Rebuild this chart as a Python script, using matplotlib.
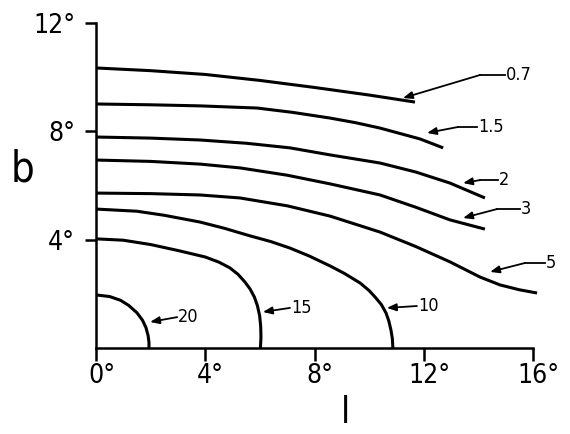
import matplotlib
matplotlib.use("Agg")
import matplotlib.pyplot as plt
from matplotlib.transforms import ScaledTranslation

plt.rcParams["font.family"] = ["DejaVu Sans"]
plt.rcParams["font.stretch"] = "condensed"

# contour levels and their traced curves (l, b in degrees)
levels = ["0.7", "1.5", "2", "3", "5", "10", "15", "20"]

l_07 = [0, 2, 4, 6, 8, 10, 11.68]
b_07 = [10.34, 10.24, 10.10, 9.88, 9.62, 9.34, 9.08]

l_15 = [0, 2, 3.81, 5.9, 7.2, 8.57, 9.5, 10.4, 11.86, 12.71]
b_15 = [9.01, 8.98, 8.94, 8.86, 8.70, 8.49, 8.32, 8.12, 7.72, 7.39]

l_2 = [0, 2, 3.81, 5.5, 7.10, 8.57, 10.4, 11.7, 12.96, 14.24]
b_2 = [7.79, 7.75, 7.68, 7.56, 7.39, 7.13, 6.83, 6.50, 6.09, 5.54]

l_3 = [0, 2, 3.81, 5.27, 7.0, 8.57, 10.4, 11.7, 12.96, 14.24]
b_3 = [6.94, 6.89, 6.79, 6.65, 6.38, 6.06, 5.65, 5.20, 4.73, 4.39]

l_5 = [0, 2, 3.81, 5.27, 7.0, 8.57, 10.4, 11.7, 12.96, 14.06, 14.79, 15.5, 16.15]
b_5 = [5.72, 5.70, 5.65, 5.54, 5.25, 4.87, 4.28, 3.75, 3.18, 2.62, 2.33, 2.15, 2.03]

l_10 = [0, 1.5, 2.5, 3.81, 4.7, 5.64, 6.4, 7.10, 7.8, 8.57, 9.1, 9.67,
        10.0, 10.22, 10.45, 10.62, 10.72, 10.80, 10.85, 10.87]
b_10 = [5.13, 5.05, 4.90, 4.65, 4.42, 4.14, 3.93, 3.69, 3.40, 3.03, 2.75, 2.40,
        2.12, 1.88, 1.60, 1.29, 1.00, 0.66, 0.35, 0]

l_15c = [0, 1, 2, 3, 4.0, 4.5, 4.9, 5.2, 5.45, 5.64, 5.80, 5.91, 5.99, 6.03,
         6.04, 6.02]
b_15c = [4.03, 3.98, 3.82, 3.60, 3.36, 3.17, 2.96, 2.72, 2.44, 2.18, 1.88, 1.56,
         1.20, 0.80, 0.40, 0]

l_20 = [0, 0.5, 0.9, 1.2, 1.5, 1.7, 1.83, 1.91, 1.94, 1.94]
b_20 = [1.96, 1.90, 1.76, 1.57, 1.30, 1.03, 0.75, 0.45, 0.20, 0]

curves_l = [l_07, l_15, l_2, l_3, l_5, l_10, l_15c, l_20]
curves_b = [b_07, b_15, b_2, b_3, b_5, b_10, b_15c, b_20]

xticks = [0, 4, 8, 12, 16]
yticks = [4, 8, 12]

# label leaders: arrow head, kink, end of tail (where the text starts)
heads = [(11.24, 9.23), (12.12, 7.94), (13.44, 6.09), (13.44, 4.80),
         (14.43, 2.81), (10.65, 1.48), (6.11, 1.33), (1.98, 0.96)]
kinks = [(14.06, 10.08), (13.25, 8.16), (14.06, 6.20), (14.68, 5.13),
         (15.71, 3.14), (11.75, 1.55), (7.10, 1.48), (2.97, 1.14)]
tails = [(14.97, 10.08), (13.95, 8.16), (14.72, 6.20), (15.52, 5.13),
         (16.44, 3.14), (11.75, 1.55), (7.10, 1.48), (2.97, 1.14)]

fig = plt.figure(figsize=(5.70, 4.34), dpi=100)
ax = fig.add_axes([96 / 570, 86 / 434, 437 / 570, 325 / 434])

for lx, by in zip(curves_l, curves_b):
    ax.plot(lx, by, color="black", lw=2.2, clip_on=False,
            solid_capstyle="butt", solid_joinstyle="round")

for lev, h, k, t in zip(levels, heads, kinks, tails):
    ax.annotate("", xy=h, xytext=k,
                arrowprops=dict(arrowstyle="-|>,head_length=0.55,head_width=0.22",
                                color="black", lw=1.3, shrinkA=0, shrinkB=0),
                annotation_clip=False)
    ax.plot([k[0], t[0]], [k[1], t[1]], color="black", lw=1.3, clip_on=False)
    ax.text(t[0] + 0.04, t[1], lev, ha="left", va="center", fontsize=13,
            clip_on=False)

ax.set_xlim(0, 16)
ax.set_ylim(0, 12)
for side in ["top", "right"]:
    ax.spines[side].set_visible(False)
for side in ["left", "bottom"]:
    ax.spines[side].set_linewidth(1.8)

ax.set_xticks(xticks)
ax.set_xticklabels([f"{v}°" for v in xticks])
ax.set_yticks(yticks)
ax.set_yticklabels([f"{v}°" for v in yticks])
ax.tick_params(axis="both", direction="out", width=1.8, labelsize=19)
ax.tick_params(axis="x", length=9, pad=2)
ax.tick_params(axis="y", length=8, pad=7)

# keep the digits centred under each tick, the degree sign hangs right
shift = ScaledTranslation(4 / 72, 0, fig.dpi_scale_trans)
for lab in ax.get_xticklabels():
    lab.set_transform(lab.get_transform() + shift)

fig.text(22 / 570, 1 - 170 / 434, "b", fontsize=30, ha="center", va="center")
fig.text(345 / 570, 1 - 413 / 434, "l", fontsize=27, ha="center", va="center")

fig.savefig("out.png", dpi=100)
